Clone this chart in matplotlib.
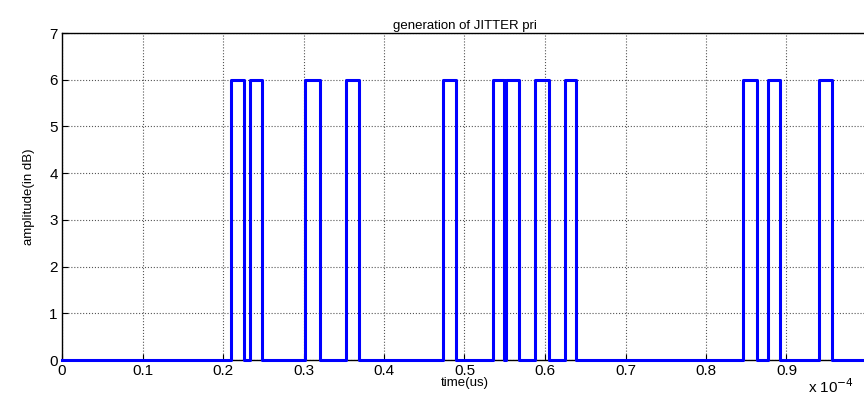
import numpy as np
import matplotlib.pyplot as plt

# pulse edges in units of 1e-4 s
pulse_start = [0.210, 0.233, 0.302, 0.353, 0.473, 0.535, 0.552, 0.588, 0.625, 0.846, 0.877, 0.940]
pulse_end = [0.226, 0.249, 0.321, 0.369, 0.489, 0.549, 0.568, 0.605, 0.639, 0.863, 0.892, 0.957]
amplitude = 6
t_span = [0.0, 1.0]
x_ticklabels = ['0', '0.1', '0.2', '0.3', '0.4', '0.5', '0.6', '0.7', '0.8', '0.9', '']

# build the pulse train
t = [t_span[0]]
y = [0]
for s, e in zip(pulse_start, pulse_end):
    t += [s, s, e, e]
    y += [0, amplitude, amplitude, 0]
t.append(t_span[1])
y.append(0)

plt.rcParams['font.family'] = ['Liberation Sans', 'DejaVu Sans']

fig = plt.figure(figsize=(8.64, 3.97), dpi=100)
W, H = 864, 397
ax = fig.add_axes([62 / W, 1 - 360 / H, (867 - 62) / W, (360 - 33) / H])

ax.plot(t, y, color='#0000ff', linewidth=2.2, clip_on=False, zorder=3)

ax.set_xlim(0, 1)
ax.set_ylim(0, 7)
ax.set_xticks(np.arange(0, 1.01, 0.1))
ax.set_xticklabels(x_ticklabels)
ax.set_yticks(range(0, 8))
ax.tick_params(direction='in', length=4, labelsize=11, pad=3)
ax.grid(True, linestyle=':', color='#555555', linewidth=0.8)
for sp in ax.spines.values():
    sp.set_linewidth(1.0)

ax.set_title('generation of JITTER pri', fontsize=9.5, pad=3)
ax.set_xlabel('time(us)', fontsize=9.5, labelpad=-1)
ax.set_ylabel('amplitude(in dB)', fontsize=9.5, labelpad=10)
fig.text(808 / W, 1 - 393 / H, r'x 10$^{-4}$', fontsize=11)

fig.savefig('out.png', dpi=100)
